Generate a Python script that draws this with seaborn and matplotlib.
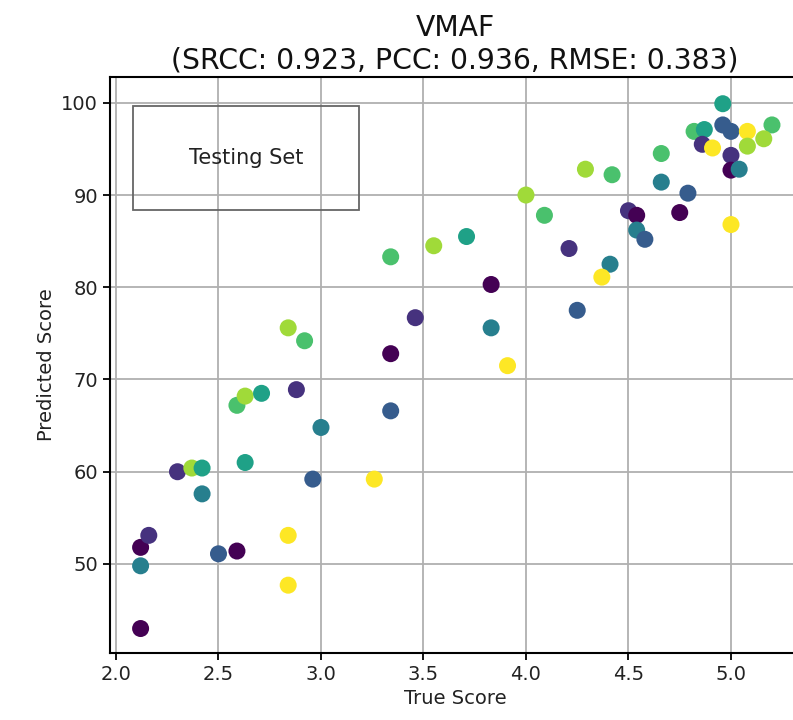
import matplotlib
matplotlib.use("Agg")
import matplotlib.pyplot as plt
import matplotlib.patches as patches
import seaborn as sns
import pandas as pd

# data
true_score = [2.12, 2.12, 2.12, 2.16, 2.30, 2.37, 2.42, 2.42, 2.50, 2.59,
              2.63, 2.84, 2.84, 2.96, 3.26, 2.59, 2.63, 2.71, 2.88, 3.00,
              2.84, 2.92, 3.34, 3.34, 3.34, 3.46, 3.55, 3.71, 3.83, 3.83,
              3.91, 4.00, 4.09, 4.21, 4.25, 4.41, 4.37, 4.29, 4.42, 4.50,
              4.54, 4.54, 4.58, 4.66, 4.66, 4.79, 4.75, 4.82, 4.87, 4.86,
              4.91, 4.96, 4.96, 5.00, 5.08, 5.20, 5.16, 5.08, 5.00, 5.00,
              5.04, 5.00]
pred_score = [43.0, 49.8, 51.8, 53.1, 60.0, 60.4, 60.4, 57.6, 51.1, 51.4,
              61.0, 53.1, 47.7, 59.2, 59.2, 67.2, 68.2, 68.5, 68.9, 64.8,
              75.6, 74.2, 72.8, 66.6, 83.3, 76.7, 84.5, 85.5, 80.3, 75.6,
              71.5, 90.0, 87.8, 84.2, 77.5, 82.5, 81.1, 92.8, 92.2, 88.3,
              87.8, 86.2, 85.2, 94.5, 91.4, 90.2, 88.1, 96.9, 97.1, 95.5,
              95.1, 99.9, 97.6, 96.9, 96.9, 97.6, 96.1, 95.3, 94.3, 92.7,
              92.8, 86.8]
group = [0, 3, 0, 1, 1, 6, 4, 3, 2, 0,
         4, 7, 7, 2, 7, 5, 6, 4, 1, 3,
         6, 5, 0, 2, 5, 1, 6, 4, 0, 3,
         7, 6, 5, 1, 2, 3, 7, 6, 5, 1,
         0, 3, 2, 5, 3, 2, 0, 5, 4, 1,
         7, 4, 2, 2, 7, 5, 6, 6, 1, 0,
         3, 7]

df = pd.DataFrame({"true": true_score, "pred": pred_score, "group": group})

sns.set_style("white")
plt.rcParams["font.family"] = ["DejaVu Sans"]

fig = plt.figure(figsize=(7.93, 7.2), dpi=100)
ax = fig.add_axes([0.1387, 0.0931, 0.8701, 0.80])

sns.scatterplot(data=df, x="true", y="pred", hue="group", palette="viridis",
                hue_norm=(0, 7), s=150, linewidth=0, legend=False, ax=ax,
                zorder=3)

ax.set_xlim(1.9707, 5.3366)
ax.set_ylim(40.35, 102.8)
ax.set_xticks([2.0, 2.5, 3.0, 3.5, 4.0, 4.5, 5.0])
ax.set_yticks([50, 60, 70, 80, 90, 100])
ax.grid(True, color="#b0b0b0", linewidth=1.3)
ax.set_axisbelow(True)
for s in ax.spines.values():
    s.set_color("black")
    s.set_linewidth(1.5)
ax.spines["right"].set_visible(False)
ax.tick_params(axis="both", labelsize=14, length=5, width=1.3, direction="out",
               bottom=True, left=True, colors="black", labelcolor="#222222")

ax.set_xlabel("True Score", fontsize=14, color="#222222")
ax.set_ylabel("Predicted Score", fontsize=14, color="#222222")
ax.set_title("VMAF\n(SRCC: 0.923, PCC: 0.936, RMSE: 0.383)", fontsize=20.3,
             color="#111111", pad=6)

# "Testing Set" box (transparent, grid shows through)
ax.add_patch(patches.Rectangle((0.0333, 0.769), 0.3275, 0.181, transform=ax.transAxes,
                               fill=False, edgecolor="#666666",
                               linewidth=1.3, zorder=4))
ax.text(0.197, 0.859, "Testing Set", transform=ax.transAxes, ha="center",
        va="center", fontsize=15, color="#222222", zorder=5)

plt.savefig("out.png", dpi=100)
plt.close()
